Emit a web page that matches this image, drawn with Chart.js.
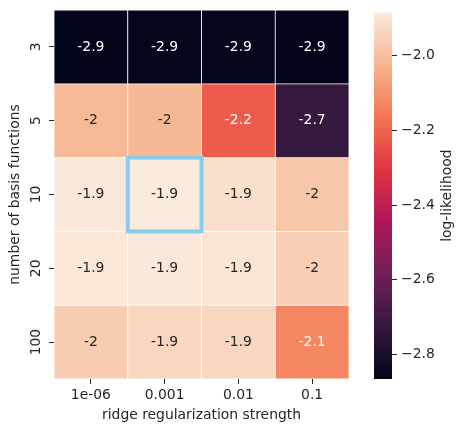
<!DOCTYPE html>
<html>
<head>
<meta charset="utf-8">
<script src="https://cdn.jsdelivr.net/npm/chart.js@4.4.1/dist/chart.umd.min.js"></script>
<style>
  body { margin: 0; background: #fff; }
  #wrap { position: relative; width: 465px; height: 432px; }
  canvas { position: absolute; left: 0; top: 0; }
</style>
</head>
<body>
<div id="wrap">
  <canvas id="heat" width="465" height="432"></canvas>
  <canvas id="cbar" width="465" height="432"></canvas>
</div>
<script>
// Data
const columns = ['1e-06', '0.001', '0.01', '0.1'];
const rows = ['3', '5', '10', '20', '100'];
const row3 = [-2.866, -2.860, -2.862, -2.864];
const row5 = [-2.012, -2.015, -2.221, -2.724];
const row10 = [-1.890, -1.884, -1.915, -1.975];
const row20 = [-1.895, -1.888, -1.900, -1.958];
const row100 = [-1.963, -1.937, -1.937, -2.127];
const values = [row3, row5, row10, row20, row100];
const best = { row: 2, col: 1 };
const vmin = -2.866;
const vmax = -1.884;
const cbTicks = [-2.8, -2.6, -2.4, -2.2, -2.0];

// rocket colormap
const rocket = ['#03051a', '#35193e', '#701f57', '#ad1759', '#e13342', '#f37651', '#f6b48f', '#faebdd'];
const hex = (h) => [1, 3, 5].map(i => parseInt(h.slice(i, i + 2), 16));

function cmap(v) {
  let t = (v - vmin) / (vmax - vmin);
  t = Math.max(0, Math.min(1, t));
  const p = t * (rocket.length - 1);
  const i = Math.min(Math.floor(p), rocket.length - 2);
  const f = p - i;
  const a = hex(rocket[i]), b = hex(rocket[i + 1]);
  return a.map((c, k) => Math.round(c + (b[k] - c) * f));
}

function lum(rgb) {
  const l = rgb.map(c => {
    c /= 255;
    return c <= 0.03928 ? c / 12.92 : Math.pow((c + 0.055) / 1.055, 2.4);
  });
  return 0.2126 * l[0] + 0.7152 * l[1] + 0.0722 * l[2];
}

const rgbStr = (c) => `rgb(${c[0]},${c[1]},${c[2]})`;
const fmt = (v) => String(Number(v.toPrecision(2)));

Chart.defaults.font.family = 'DejaVu Sans';
Chart.defaults.font.size = 13.9;
Chart.defaults.color = '#262626';
Chart.defaults.animation = false;

// cell labels + highlight box
const cellText = {
  id: 'cellText',
  afterDatasetsDraw(chart) {
    const ctx = chart.ctx;
    ctx.save();
    ctx.font = '13.9px "DejaVu Sans"';
    ctx.textAlign = 'center';
    ctx.textBaseline = 'middle';
    values.forEach((row, i) => {
      const meta = chart.getDatasetMeta(i);
      meta.data.forEach((bar, j) => {
        const c = cmap(row[j]);
        ctx.fillStyle = lum(c) > 0.408 ? '#262626' : '#ffffff';
        ctx.fillText(fmt(row[j]), bar.x, (bar.y + bar.base) / 2);
      });
    });
    const b = chart.getDatasetMeta(best.row).data[best.col];
    ctx.strokeStyle = '#87ceeb';
    ctx.lineWidth = 4;
    ctx.strokeRect(b.x - b.width / 2, Math.min(b.y, b.base), b.width, Math.abs(b.base - b.y));
    ctx.restore();
  }
};

new Chart(document.getElementById('heat'), {
  type: 'bar',
  data: {
    labels: columns,
    datasets: values.map((row, i) => ({
      data: row.map(() => [i, i + 1]),
      backgroundColor: row.map(v => rgbStr(cmap(v))),
      borderColor: '#ffffff',
      borderWidth: 0.75,
      borderSkipped: false,
      barPercentage: 1,
      categoryPercentage: 1,
      grouped: false
    }))
  },
  options: {
    responsive: false,
    layout: { padding: { left: 0, right: 116, top: 10, bottom: 0 } },
    plugins: { legend: { display: false }, tooltip: { enabled: false } },
    scales: {
      x: {
        type: 'category',
        offset: true,
        afterFit: (s) => { s.height = 53; },
        grid: { offset: false, drawOnChartArea: false, tickLength: 5, color: '#262626', tickWidth: 1 },
        border: { display: false },
        ticks: { padding: 3, maxRotation: 0 },
        title: { display: true, text: 'ridge regularization strength', padding: { top: 0, bottom: 8.7 } }
      },
      y: {
        type: 'linear',
        reverse: true,
        min: 0,
        max: rows.length,
        afterBuildTicks: (s) => { s.ticks = rows.map((r, i) => ({ value: i + 0.5 })); },
        afterFit: (s) => { s.width = 54; },
        grid: { drawOnChartArea: false, tickLength: 5, color: '#262626', tickWidth: 1 },
        border: { display: false },
        ticks: {
          minRotation: 90,
          maxRotation: 90,
          crossAlign: 'center',
          padding: -1,
          callback: (v, idx) => rows[idx]
        },
        title: { display: true, text: 'number of basis functions', padding: { top: 6.7, bottom: 0 } }
      }
    }
  },
  plugins: [cellText]
});

// colorbar
const gradientBar = {
  id: 'gradientBar',
  beforeDatasetsDraw(chart) {
    const { ctx, chartArea } = chart;
    const y = chart.scales.y;
    const g = ctx.createLinearGradient(0, y.getPixelForValue(vmin), 0, y.getPixelForValue(vmax));
    rocket.forEach((c, i) => g.addColorStop(i / (rocket.length - 1), c));
    ctx.save();
    ctx.fillStyle = g;
    ctx.fillRect(chartArea.left, chartArea.top, chartArea.right - chartArea.left, chartArea.bottom - chartArea.top);
    ctx.restore();
  },
  afterDraw(chart) {
    const { ctx, chartArea } = chart;
    ctx.save();
    ctx.font = '13.9px "DejaVu Sans"';
    ctx.fillStyle = '#262626';
    ctx.textAlign = 'center';
    ctx.textBaseline = 'middle';
    ctx.translate(447, (chartArea.top + chartArea.bottom) / 2);
    ctx.rotate(-Math.PI / 2);
    ctx.fillText('log-likelihood', 0, 0);
    ctx.restore();
  }
};

new Chart(document.getElementById('cbar'), {
  type: 'bar',
  data: { labels: [''], datasets: [] },
  options: {
    responsive: false,
    layout: { padding: { left: 374, right: 0, top: 9, bottom: 53 } },
    plugins: { legend: { display: false }, tooltip: { enabled: false } },
    scales: {
      x: { display: false },
      y: {
        position: 'right',
        min: vmin,
        max: vmax,
        afterBuildTicks: (s) => { s.ticks = cbTicks.map(v => ({ value: v })); },
        afterFit: (s) => { s.width = 73; },
        grid: { drawOnChartArea: false, tickLength: 5, color: '#262626', tickWidth: 1 },
        border: { display: false },
        ticks: {
          padding: 4,
          callback: (v) => v.toFixed(1).replace('-', '\u2212')
        }
      }
    }
  },
  plugins: [gradientBar]
});
</script>
</body>
</html>
